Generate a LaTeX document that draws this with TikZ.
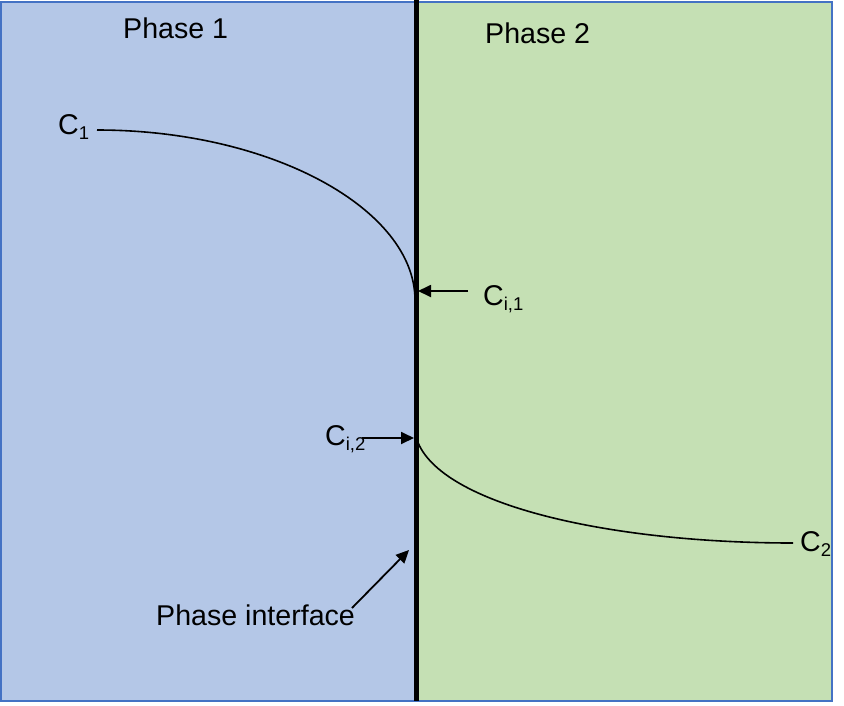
\documentclass[tikz,border=0pt]{standalone}
\usepackage{fontspec}
\setmainfont{Liberation Sans}
\usetikzlibrary{arrows.meta}
\definecolor{bluefill}{HTML}{B4C7E7}
\definecolor{greenfill}{HTML}{C5E0B4}
\definecolor{borderblue}{HTML}{4472C4}
\newcommand\sbs[1]{\raisebox{-5pt}{\fontsize{18.5}{20}\selectfont #1}}
\tikzset{
  lbl/.style={inner sep=0pt, anchor=base west, font=\fontsize{28.6}{32}\selectfont},
  curve/.style={line width=1.6pt, black},
  pointer/.style={line width=1.8pt, black, -{Triangle[length=13pt,width=12pt]}},
}
\begin{document}
\begin{tikzpicture}[x=1pt,y=-1pt]
\useasboundingbox (0,0) rectangle (844,705);
\fill[bluefill] (1,2) rectangle (416,701);
\fill[greenfill] (416,2) rectangle (832,701);
\draw[borderblue, line width=2pt] (1,2) rectangle (832,701);
% interface
\coordinate (itop) at (416.5,0);
\coordinate (ibot) at (416.5,701);
\draw[line width=5pt, black] (itop) -- (ibot);
% labels
\node[lbl] (p1) at (123,38) {Phase 1};
\node[lbl] (p2) at (485,43) {Phase 2};
\node[lbl] (c1) at (58,134) {C\sbs{1}};
\node[lbl] (ci1) at (483,305) {C\sbs{i,1}};
\node[lbl] (ci2) at (325,445) {C\sbs{i,2}};
\node[lbl] (c2) at (800,551) {C\sbs{2}};
\node[lbl] (pi) at (156,625) {Phase interface};
% curves
\coordinate (c1s) at (97,130);
\coordinate (c1e) at (415,300);
\draw[curve] (c1s) .. controls (273,130) and (415,210) .. (c1e);
\coordinate (c2s) at (417,440);
\coordinate (c2e) at (793,543);
\draw[curve] (c2s) .. controls (440,505) and (610,543) .. (c2e);
% pointers
\coordinate (a1s) at (468,291);
\coordinate (a1e) at (418,291);
\draw[pointer] (a1s) -- (a1e);
\coordinate (a2s) at (362,438);
\coordinate (a2e) at (414,438);
\draw[pointer] (a2s) -- (a2e);
\coordinate (a3s) at (352,608);
\coordinate (a3e) at (409,550);
\draw[pointer] (a3s) -- (a3e);
\end{tikzpicture}
\end{document}
